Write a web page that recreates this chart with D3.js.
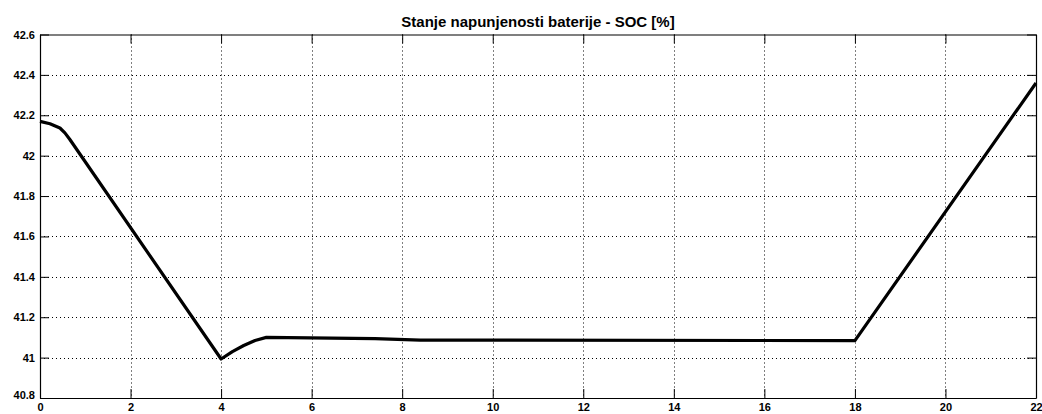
<!DOCTYPE html>
<html>
<head>
<meta charset="utf-8">
<script src="https://cdn.jsdelivr.net/npm/d3@7"></script>
<style>
  body { margin: 0; background: #fff; }
</style>
</head>
<body>
<div id="chart"></div>
<script>
const title = "Stanje napunjenosti baterije - SOC [%]";
const timeH = [0, 0.22, 0.44, 0.55, 0.66, 4, 4.25, 4.5, 4.75, 5, 7.4, 8.4, 18, 22];
const soc = [42.17, 42.158, 42.137, 42.113, 42.08, 40.993, 41.03, 41.06, 41.085, 41.1, 41.094, 41.087, 41.084, 42.36];
const xTicks = [0, 2, 4, 6, 8, 10, 12, 14, 16, 18, 20, 22];
const yTicks = [40.8, 41, 41.2, 41.4, 41.6, 41.8, 42, 42.2, 42.4, 42.6];

const width = 1042, height = 414;
const padLeft = 40, padRight = 1036, padTop = 34.5, padBottom = 398;
const font = "'Liberation Sans', Arial, sans-serif";

const svg = d3.select("#chart").append("svg")
    .attr("width", width)
    .attr("height", height);

const x = d3.scaleLinear().domain([0, 22]).range([padLeft, padRight]);
const y = d3.scaleLinear().domain([40.8, 42.6]).range([padBottom, padTop]);

// grid
const grid = svg.append("g")
    .attr("stroke", "#000")
    .attr("stroke-width", 1)
    .attr("stroke-dasharray", "1,3");
grid.selectAll("line.vx")
    .data(xTicks.slice(1, -1))
    .enter().append("line")
    .attr("x1", d => Math.round(x(d)) + 0.5).attr("x2", d => Math.round(x(d)) + 0.5)
    .attr("y1", padTop).attr("y2", padBottom);
grid.selectAll("line.hy")
    .data(yTicks.slice(1, -1))
    .enter().append("line")
    .attr("y1", d => Math.round(y(d)) + 0.5).attr("y2", d => Math.round(y(d)) + 0.5)
    .attr("x1", padLeft).attr("x2", padRight);

// axes, ticks inward
const tick = 9;
const xAxisB = d3.axisBottom(x).tickValues(xTicks).tickSizeInner(-tick).tickSizeOuter(0).tickPadding(5).tickFormat(d3.format("d"));
const xAxisT = d3.axisTop(x).tickValues(xTicks).tickSizeInner(-tick).tickSizeOuter(0).tickFormat("");
const yAxisL = d3.axisLeft(y).tickValues(yTicks).tickSizeInner(-tick).tickSizeOuter(0).tickPadding(5).tickFormat(d => String(+d.toFixed(1)));
const yAxisR = d3.axisRight(y).tickValues(yTicks).tickSizeInner(-tick).tickSizeOuter(0).tickFormat("");

function style(g) {
  g.attr("font-family", font).attr("font-size", 11).attr("font-weight", "bold");
  g.select(".domain").attr("stroke", "#000").attr("stroke-width", 1.2);
  g.selectAll(".tick line").attr("stroke", "#000");
  g.selectAll(".tick text").attr("fill", "#000");
}

svg.append("g").attr("transform", `translate(0,${padBottom})`).call(xAxisB).call(style);
svg.append("g").attr("transform", `translate(0,${padTop})`).call(xAxisT).call(style);
const yG = svg.append("g").attr("transform", `translate(${padLeft},0)`).call(yAxisL).call(style);
svg.append("g").attr("transform", `translate(${padRight},0)`).call(yAxisR).call(style);

// bottom-most y label sits a bit higher in the reference
yG.selectAll(".tick text").filter(d => d === 40.8).attr("dy", "0.05em");

// line
const line = d3.line().x((d, i) => x(timeH[i])).y(d => y(d));
svg.append("path")
    .datum(soc)
    .attr("d", line)
    .attr("fill", "none")
    .attr("stroke", "#000")
    .attr("stroke-width", 3.2)
    .attr("stroke-linejoin", "round");

// title
svg.append("text")
    .attr("x", (padLeft + padRight) / 2)
    .attr("y", 27)
    .attr("text-anchor", "middle")
    .attr("font-family", font)
    .attr("font-weight", "bold")
    .attr("font-size", 15)
    .text(title);
</script>
</body>
</html>
